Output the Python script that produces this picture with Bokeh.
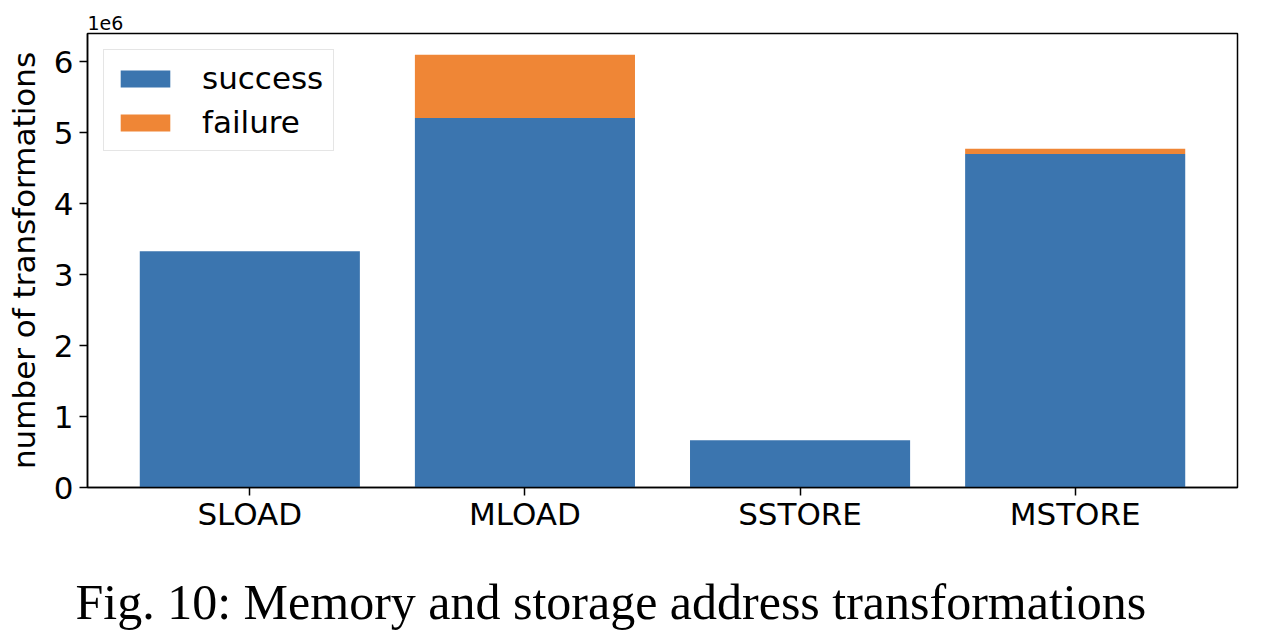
from bokeh.plotting import figure
from bokeh.models import FactorRange, Range1d, FixedTicker, Title, Legend, LegendItem
from bokeh.embed import file_html
from bokeh.resources import INLINE

categories = ["SLOAD", "MLOAD", "SSTORE", "MSTORE"]
success = [3.33e6, 5.21e6, 0.667e6, 4.70e6]
failure = [0.0, 0.89e6, 0.0, 0.075e6]
y_ticks = [0, 1e6, 2e6, 3e6, 4e6, 5e6, 6e6]
y_tick_labels = ["0", "1", "2", "3", "4", "5", "6"]
series = ["success", "failure"]
colors = ["#3B75AF", "#EF8636"]
caption = "Fig. 10: Memory and storage address transformations"

FONT = "DejaVu Sans"
FS = "31px"

p = figure(
    x_range=FactorRange(factors=categories, range_padding=0.045, range_padding_units="percent"),
    y_range=Range1d(0, 6.4e6),
    frame_width=1150, frame_height=454,
    output_backend="svg", toolbar_location=None,
    min_border_left=87, min_border_right=34, min_border_top=33, min_border_bottom=6,
)

data = dict(cat=categories, success=success, failure=failure)
rs = p.vbar_stack(series, x="cat", width=0.8, color=colors, source=data, line_width=0)

p.xgrid.visible = False
p.ygrid.visible = False
p.outline_line_color = "black"
p.outline_line_width = 1.5
p.background_fill_color = "white"
p.border_fill_color = "white"

for ax in (p.xaxis[0], p.yaxis[0]):
    ax.axis_line_color = "black"
    ax.axis_line_width = 1.5
    ax.major_tick_line_color = "black"
    ax.major_tick_line_width = 1.5
    ax.major_tick_out = 8
    ax.major_tick_in = 0
    ax.minor_tick_line_color = None
    ax.major_label_text_font = FONT
    ax.major_label_text_font_size = FS
    ax.major_label_text_color = "black"

p.xaxis.major_label_standoff = 0
p.yaxis.major_label_standoff = 6

p.yaxis.ticker = FixedTicker(ticks=y_ticks)
p.yaxis.major_label_overrides = {t: l for t, l in zip(y_ticks, y_tick_labels)}
p.yaxis.axis_label = "number of transformations"
p.yaxis.axis_label_text_font = FONT
p.yaxis.axis_label_text_font_size = FS
p.yaxis.axis_label_text_font_style = "normal"
p.yaxis.axis_label_text_color = "black"
p.yaxis.axis_label_standoff = 9

exp = Title(text="1e6", align="left", text_font=FONT, text_font_size="19px",
            text_font_style="normal", text_color="black", standoff=7, offset=0)
p.add_layout(exp, "above")

cap = Title(text=caption, align="left", offset=-12, text_font="Liberation Serif",
            text_font_size="50px", text_font_style="normal", text_color="black", standoff=75)
p.add_layout(cap, "below")

legend = Legend(items=[LegendItem(label=s, renderers=[r]) for s, r in zip(series, rs)],
                location="top_left")
legend.margin = 16
legend.padding = 10
legend.spacing = 8
legend.glyph_width = 62
legend.glyph_height = 21
legend.label_standoff = 26
legend.label_text_font = FONT
legend.label_text_font_size = FS
legend.label_text_color = "black"
legend.border_line_color = "#cccccc"
legend.border_line_width = 1.5
legend.background_fill_alpha = 0.8
p.add_layout(legend, "center")

open("out.html", "w").write(file_html(p, INLINE))
